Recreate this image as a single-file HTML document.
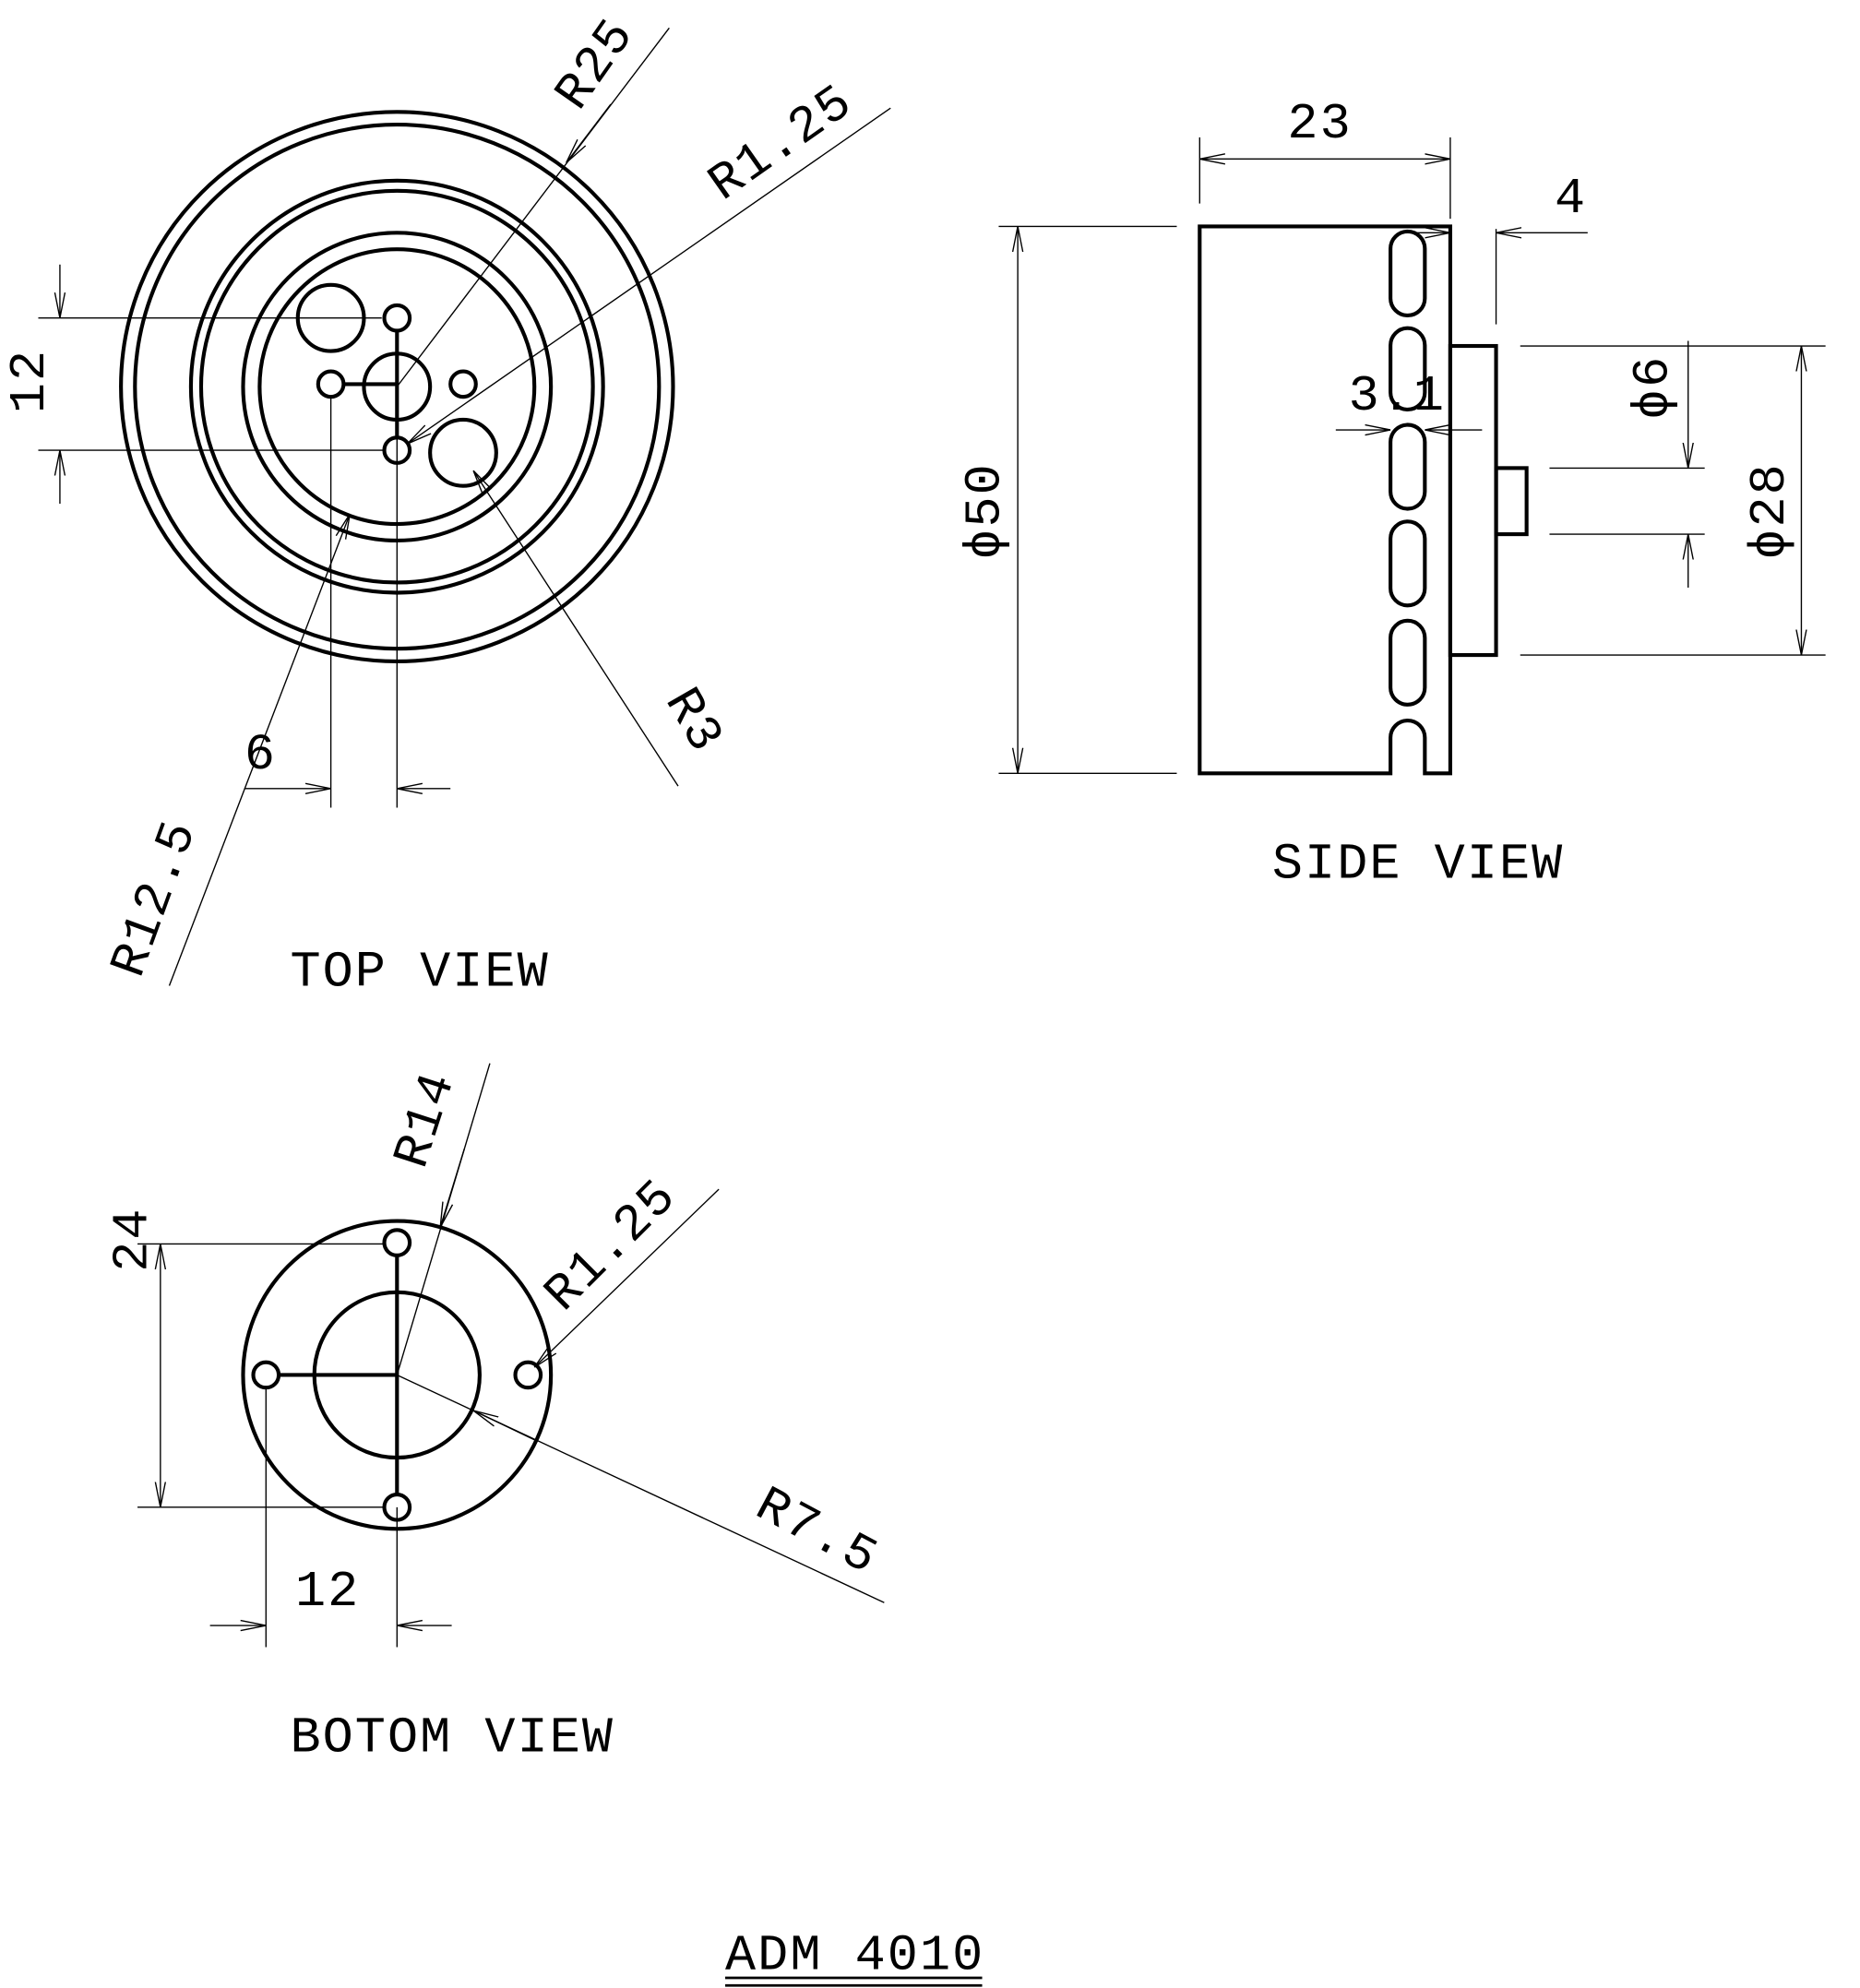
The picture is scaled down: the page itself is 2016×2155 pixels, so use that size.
<!DOCTYPE html>
<html><head><meta charset="utf-8"><style>
html,body{margin:0;padding:0;background:#fff}
svg{display:block}
text{font-family:"Liberation Mono",monospace;font-size:40px;fill:#000;letter-spacing:1.5px}
</style></head><body>
<svg width="2016" height="2155" viewBox="0 0 1462 1563" xmlns="http://www.w3.org/2000/svg">
<defs>
<marker id="a" viewBox="0 0 20 10" refX="20" refY="5" markerWidth="20" markerHeight="10" markerUnits="userSpaceOnUse" orient="auto-start-reverse">
<path d="M0,1 L20,5 L0,9" fill="none" stroke="#000" stroke-width="1"/>
</marker>
</defs>
<g fill="none" stroke="#000" stroke-width="3">
<ellipse cx="312" cy="304" rx="217" ry="216"/>
<circle cx="312" cy="304" r="206"/>
<circle cx="312" cy="304" r="162"/>
<circle cx="312" cy="304" r="154"/>
<circle cx="312" cy="304" r="121"/>
<circle cx="312" cy="304" r="108"/>
<circle cx="260" cy="250" r="26"/>
<circle cx="364" cy="356" r="26"/>
<circle cx="312" cy="304" r="26"/>
<circle cx="312" cy="250" r="10"/>
<circle cx="260" cy="302" r="10"/>
<circle cx="364" cy="302" r="10"/>
<circle cx="312" cy="354" r="10"/>
<line x1="312" y1="260" x2="312" y2="344"/>
<line x1="270" y1="302" x2="312" y2="302"/>
<path d="M943,178 H1140 V608 H1120 V580 A13.5,13.5 0 0 0 1093,580 V608 H943 Z"/>
<rect x="1140" y="272" width="36" height="243"/>
<rect x="1176" y="368" width="24" height="52"/>
<rect x="1093" y="182" width="27" height="66" rx="13.5"/>
<rect x="1093" y="258" width="27" height="64" rx="13.5"/>
<rect x="1093" y="334" width="27" height="66" rx="13.5"/>
<rect x="1093" y="410" width="27" height="66" rx="13.5"/>
<rect x="1093" y="488" width="27" height="66" rx="13.5"/>
<circle cx="312" cy="1081" r="121"/>
<circle cx="312" cy="1081" r="65"/>
<circle cx="312" cy="977" r="10"/>
<circle cx="209" cy="1081" r="10"/>
<circle cx="415" cy="1081" r="10"/>
<circle cx="312" cy="1185" r="10"/>
<line x1="312" y1="987" x2="312" y2="1175"/>
<line x1="219" y1="1081" x2="312" y2="1081"/>
<line x1="570" y1="1555" x2="772" y2="1555" stroke-width="2"/>
<line x1="570" y1="1561" x2="772" y2="1561" stroke-width="2"/>
</g>
<g fill="none" stroke="#000" stroke-width="1">
<line x1="312" y1="330" x2="312" y2="635"/>
<line x1="260" y1="312" x2="260" y2="635"/>
<line x1="192" y1="620" x2="260" y2="620" marker-end="url(#a)"/>
<line x1="354" y1="620" x2="312" y2="620" marker-end="url(#a)"/>
<line x1="30" y1="250" x2="300" y2="250"/>
<line x1="30" y1="354" x2="302" y2="354"/>
<line x1="47" y1="208" x2="47" y2="250" marker-end="url(#a)"/>
<line x1="47" y1="396" x2="47" y2="354" marker-end="url(#a)"/>
<line x1="526" y1="22" x2="312" y2="304"/>
<line x1="480" y1="82" x2="445" y2="128" marker-end="url(#a)"/>
<line x1="700" y1="85" x2="320" y2="349" marker-end="url(#a)"/>
<line x1="533" y1="618" x2="372" y2="370" marker-end="url(#a)"/>
<line x1="133" y1="775" x2="275" y2="404" marker-end="url(#a)"/>
<line x1="943" y1="108" x2="943" y2="160"/>
<line x1="1140" y1="108" x2="1140" y2="172"/>
<line x1="943" y1="125" x2="1140" y2="125" marker-start="url(#a)" marker-end="url(#a)"/>
<line x1="1176" y1="180" x2="1176" y2="255"/>
<line x1="1100" y1="183" x2="1140" y2="183" marker-end="url(#a)"/>
<line x1="1248" y1="183" x2="1176" y2="183" marker-end="url(#a)"/>
<line x1="1050" y1="338" x2="1093" y2="338" marker-end="url(#a)"/>
<line x1="1165" y1="338" x2="1120" y2="338" marker-end="url(#a)"/>
<line x1="785" y1="178" x2="925" y2="178"/>
<line x1="785" y1="608" x2="925" y2="608"/>
<line x1="800" y1="178" x2="800" y2="608" marker-start="url(#a)" marker-end="url(#a)"/>
<line x1="1195" y1="272" x2="1435" y2="272"/>
<line x1="1195" y1="515" x2="1435" y2="515"/>
<line x1="1416" y1="272" x2="1416" y2="515" marker-start="url(#a)" marker-end="url(#a)"/>
<line x1="1218" y1="368" x2="1340" y2="368"/>
<line x1="1218" y1="420" x2="1340" y2="420"/>
<line x1="1327" y1="268" x2="1327" y2="368" marker-end="url(#a)"/>
<line x1="1327" y1="462" x2="1327" y2="420" marker-end="url(#a)"/>
<line x1="312" y1="1185" x2="312" y2="1295"/>
<line x1="209" y1="1091" x2="209" y2="1295"/>
<line x1="165" y1="1278" x2="209" y2="1278" marker-end="url(#a)"/>
<line x1="355" y1="1278" x2="312" y2="1278" marker-end="url(#a)"/>
<line x1="108" y1="978" x2="302" y2="978"/>
<line x1="108" y1="1185" x2="302" y2="1185"/>
<line x1="126" y1="978" x2="126" y2="1185" marker-start="url(#a)" marker-end="url(#a)"/>
<line x1="385" y1="836" x2="312" y2="1081"/>
<line x1="365" y1="903" x2="346" y2="965" marker-end="url(#a)"/>
<line x1="565" y1="935" x2="420" y2="1075" marker-end="url(#a)"/>
<line x1="695" y1="1260" x2="312" y2="1081"/>
<line x1="420" y1="1132" x2="372" y2="1109" marker-end="url(#a)"/>
</g>
<text x="228" y="775">TOP VIEW</text>
<text x="1000" y="690">SIDE VIEW</text>
<text x="228" y="1377">BOTOM VIEW</text>
<text x="570" y="1548">ADM 4010</text>
<text x="192" y="604">6</text>
<text x="1012" y="108">23</text>
<text x="1222" y="167">4</text>
<text x="1060" y="322">3.1</text>
<text x="232" y="1262">12</text>
<text transform="translate(34,325) rotate(-90)">12</text>
<text transform="translate(115,1000) rotate(-90)">24</text>
<text transform="translate(785,440) rotate(-90)">&#981;50</text>
<text transform="translate(1402,440) rotate(-90)">&#981;28</text>
<text transform="translate(1310,330) rotate(-90)">&#981;6</text>
<text transform="translate(455,88) rotate(-55)">R25</text>
<text transform="translate(568,158) rotate(-35)">R1.25</text>
<text transform="translate(523,550) rotate(60)">R3</text>
<text transform="translate(110,770) rotate(-70)">R12.5</text>
<text transform="translate(333,920) rotate(-72)">R14</text>
<text transform="translate(443,1032) rotate(-45)">R1.25</text>
<text transform="translate(592,1190) rotate(28)">R7.5</text>
</svg>
</body></html>
